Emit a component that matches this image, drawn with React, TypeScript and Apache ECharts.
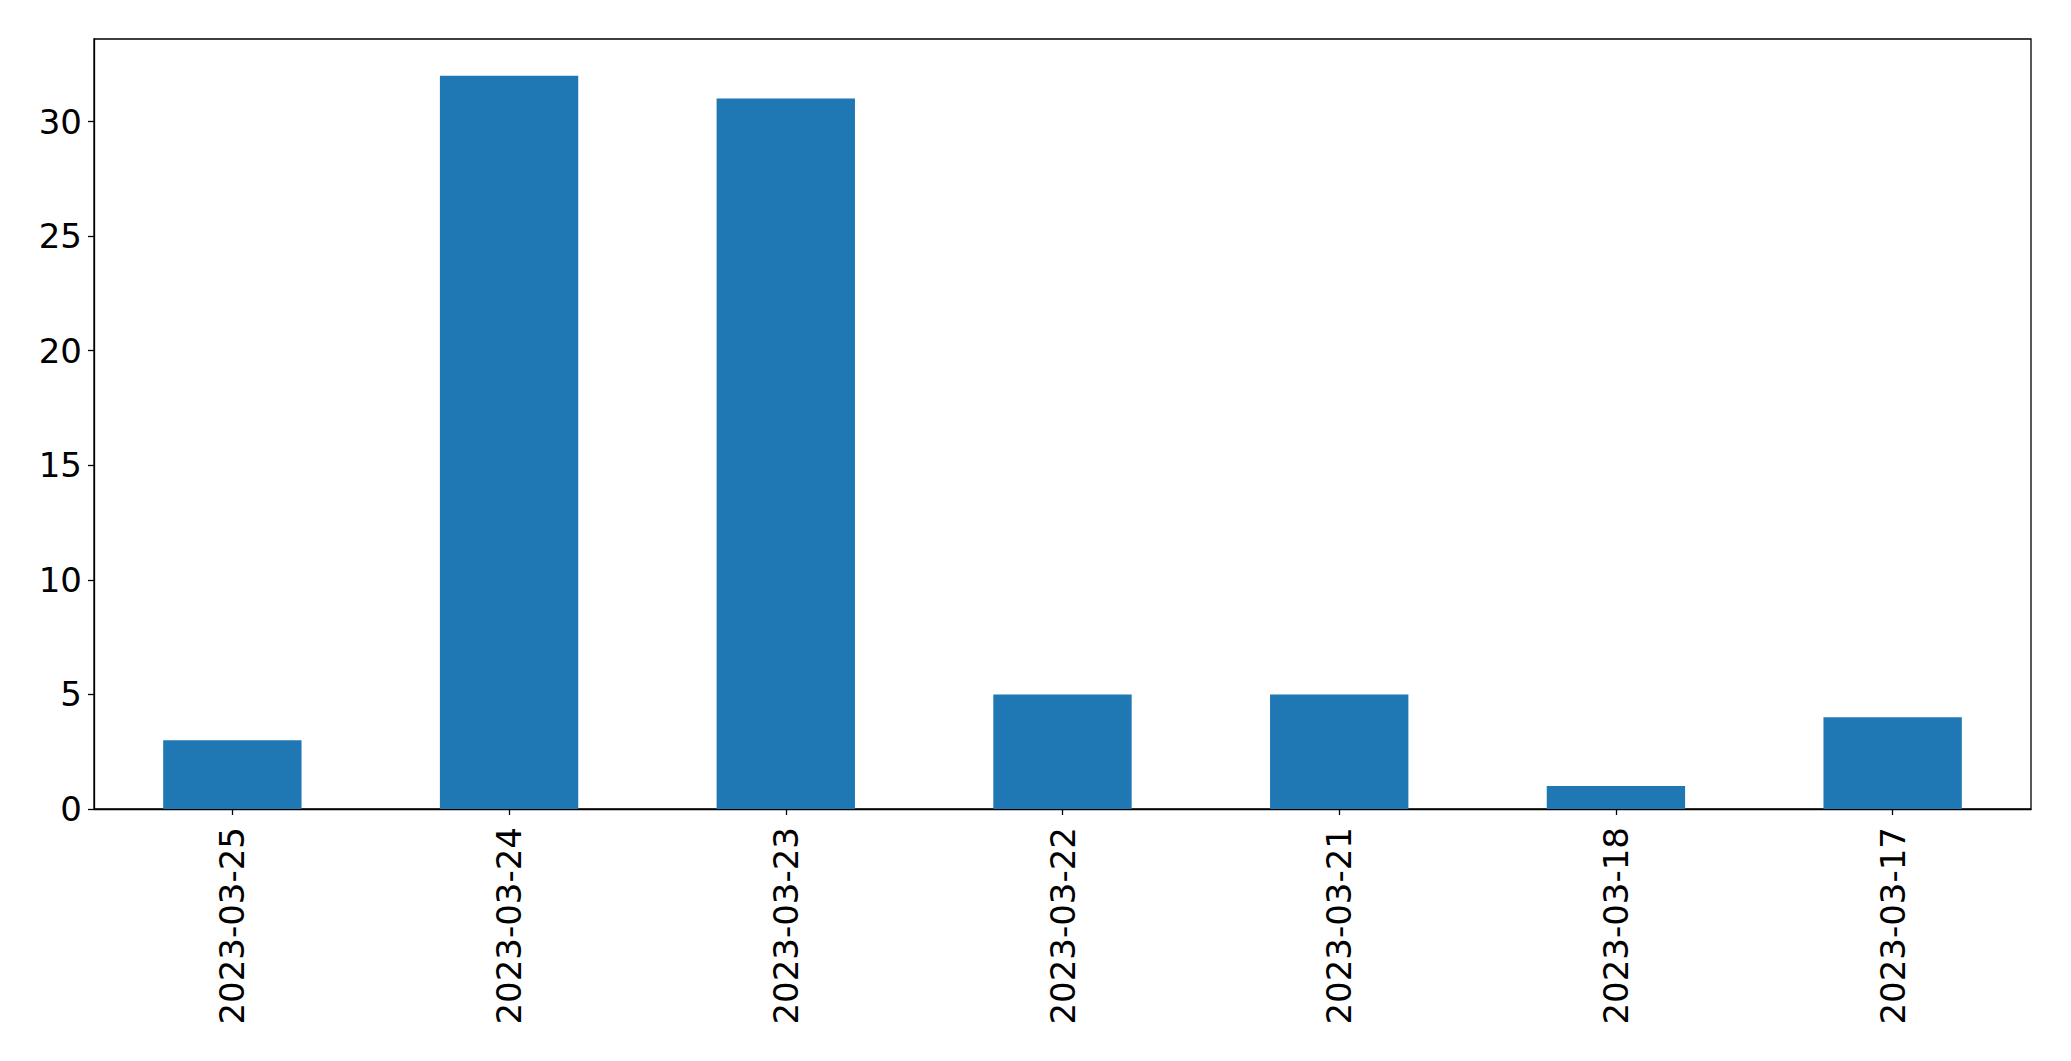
import React, { useEffect, useRef } from "react";
import * as echarts from "echarts";

const categories = ["2023-03-25", "2023-03-24", "2023-03-23", "2023-03-22", "2023-03-21", "2023-03-18", "2023-03-17"];
const values = [3, 32, 31, 5, 5, 1, 4];
const yTicks = [0, 5, 10, 15, 20, 25, 30];

export default function App() {
  const ref = useRef<HTMLDivElement>(null);
  useEffect(() => {
    if (!ref.current) return;
    const chart = echarts.init(ref.current, null, { renderer: "svg" });
    const font = "DejaVu Sans";
    chart.setOption({
      animation: false,
      backgroundColor: "#ffffff",
      grid: {
        left: 94,
        top: 39,
        width: 1937,
        height: 770,
        show: true,
        borderColor: "#000",
        borderWidth: 1.3,
        backgroundColor: "transparent",
        containLabel: false,
      },
      xAxis: {
        type: "category",
        data: categories,
        boundaryGap: true,
        axisLine: { show: true, lineStyle: { color: "#000", width: 1.3 } },
        axisTick: { show: true, alignWithLabel: true, length: 6, lineStyle: { color: "#000", width: 1.3 } },
        axisLabel: { rotate: 90, margin: 18, color: "#000", fontSize: 34, fontFamily: font, interval: 0 },
        splitLine: { show: false },
      },
      yAxis: {
        type: "value",
        min: 0,
        max: 33.6,
        interval: 5,
        axisLine: { show: true, lineStyle: { color: "#000", width: 1.3 } },
        axisTick: { show: true, length: 6, customValues: yTicks, lineStyle: { color: "#000", width: 1.3 } },
        axisLabel: { margin: 12, color: "#000", fontSize: 34, fontFamily: font, customValues: yTicks },
        splitLine: { show: false },
      },
      series: [
        {
          type: "bar",
          data: values,
          barWidth: "50%",
          itemStyle: { color: "#1f77b4" },
        },
      ],
    });
    return () => chart.dispose();
  }, []);
  return (
    <div
      ref={ref}
      style={{ position: "absolute", left: 0, top: 0, width: 2071, height: 1061 }}
    />
  );
}
